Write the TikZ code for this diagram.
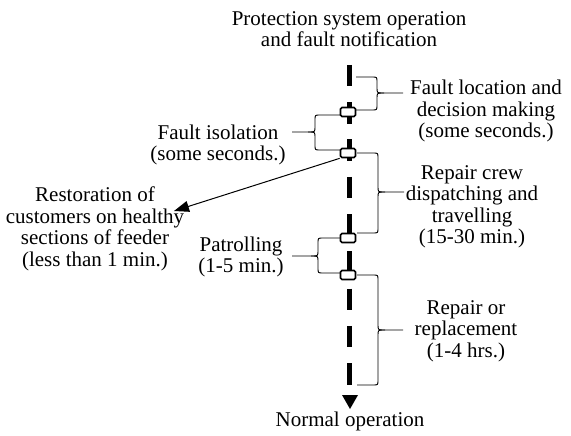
\documentclass[tikz,border=0pt]{standalone}
\usepackage{fontspec}
\setmainfont{Liberation Serif}
\usetikzlibrary{arrows.meta}
\newcommand{\BraceRight}[6]{% x0, b, t, y1, ym, y2
  \draw[bracestyle] (#1,#4) -- ({#2-5},#4) .. controls (#2,#4) .. (#2,{#4+5}) -- (#2,{#5-5}) .. controls (#2,#5) .. ({#2+7},#5) -- (#3,#5);
  \draw[bracestyle] ({#2+7},#5) .. controls (#2,#5) .. (#2,{#5+5}) -- (#2,{#6-5}) .. controls (#2,#6) .. ({#2-5},#6) -- (#1,#6);
}
\newcommand{\BraceLeft}[6]{% x0, b, t, y1, ym, y2
  \draw[bracestyle] (#1,#4) -- ({#2+5},#4) .. controls (#2,#4) .. (#2,{#4+5}) -- (#2,{#5-5}) .. controls (#2,#5) .. ({#2-7},#5) -- (#3,#5);
  \draw[bracestyle] ({#2-7},#5) .. controls (#2,#5) .. (#2,{#5+5}) -- (#2,{#6-5}) .. controls (#2,#6) .. ({#2+5},#6) -- (#1,#6);
}
\begin{document}
\begin{tikzpicture}[x=1pt,y=-1pt,
  label/.style={align=center,inner sep=0pt,font=\fontsize{21}{21.5}\selectfont},
  mainline/.style={line width=5pt,dash pattern=on 21.5pt off 15.75pt},
  stepbox/.style={draw,line width=1.7pt,fill=white,rounded corners=1.5pt,minimum width=15pt,minimum height=9pt,inner sep=0pt},
  bracestyle/.style={line width=0.9pt},
  arrowline/.style={line width=1pt,-{Triangle[length=15pt,width=11pt]}}]
\useasboundingbox (0,0) rectangle (571,436);
% main time line
\coordinate (top) at (349,65);
\coordinate (bottom) at (349,384.5);
\draw[mainline] (top) -- (bottom);
\fill (342,395) -- (358,395) -- (350,409) -- cycle;
% event boxes
\node[stepbox] (b1) at (348,112) {};
\node[stepbox] (b2) at (348,153) {};
\node[stepbox] (b3) at (348,238) {};
\node[stepbox] (b4) at (348,275) {};
% braces
\BraceRight{356}{377}{403}{77}{93}{110}
\BraceLeft{340}{315}{292}{115}{132}{150}
\BraceRight{357}{378}{404}{153}{192}{233}
\BraceLeft{340}{318}{292}{238}{256}{273}
\BraceRight{357}{378}{403}{275}{330}{385}
% arrow to restoration
\coordinate (resttip) at (174,211);
\draw[arrowline] (b2.south west) -- (resttip);
% texts
\node[label] (t0) at (349,29) {Protection system operation\\and fault notification};
\node[label] (t1) at (486,111) {Fault location and\\decision making\\(some seconds.)};
\node[label] (t2) at (218,145) {Fault isolation\\(some seconds.)};
\node[label] (t3) at (95,229) {Restoration of\\customers on healthy\\sections of feeder\\(less than 1 min.)};
\node[label] (t4) at (472,207) {Repair crew\\dispatching and\\travelling\\(15-30 min.)};
\node[label] (t5) at (241,257) {Patrolling\\(1-5 min.)};
\node[label] (t6) at (466,331) {Repair or\\replacement\\(1-4 hrs.)};
\node[label] (t7) at (350,421) {Normal operation};
\end{tikzpicture}
\end{document}
